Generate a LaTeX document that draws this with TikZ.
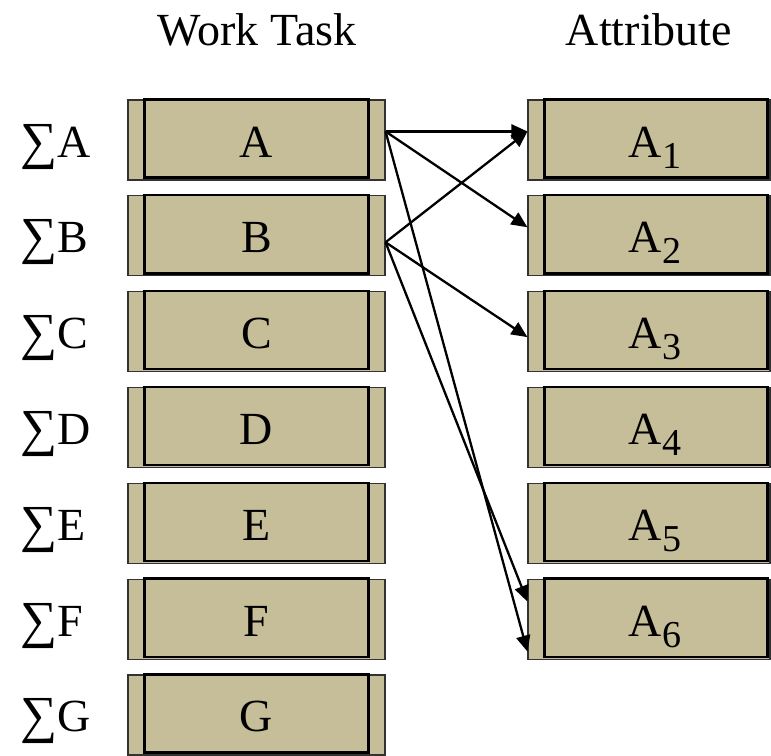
\documentclass[tikz,border=0pt]{standalone}
\usepackage{fontspec}
\setmainfont{Liberation Serif}
\usetikzlibrary{arrows.meta,calc}
\definecolor{boxfill}{RGB}{197,190,153}
\definecolor{boxedge}{RGB}{50,50,50}
\newcommand{\mysub}[1]{\raisebox{-11pt}{\fontsize{38}{40}\selectfont #1}}
\newcommand{\mysig}{\raisebox{-1pt}{\fontsize{52}{56}\selectfont ∑}}
\tikzset{
  outerbox/.style={draw=boxedge, line width=1.1pt, fill=boxfill, minimum height=80pt, inner sep=0pt},
  leftbox/.style={outerbox, minimum width=257pt},
  rightbox/.style={outerbox, minimum width=242pt},
  innerbox/.style={draw=black, line width=2.3pt},
  lbl/.style={inner sep=0pt, font=\fontsize{46}{50}\selectfont},
  arr/.style={draw=black, line width=2.3pt, -{Triangle[length=16pt,width=14pt]}}
}
\begin{document}
\begin{tikzpicture}[x=1pt,y=-1pt]
\useasboundingbox (0,0) rectangle (771,755);
\node[lbl, anchor=base] (h1) at (257,45) {Work Task};
\node[lbl, anchor=base] (h2) at (649,45) {Attribute};
\foreach \n [count=\i from 0] in {A,B,C,D,E,F,G} {
  \pgfmathsetmacro\t{100+95.83*\i}
  \node[leftbox] (\n) at (256.5,\t+40) {};
  \draw[innerbox] ($(\n.north west)+(17,0)$) rectangle ($(\n.south east)+(-17,-3)$);
  \node[lbl, anchor=base] (t\n) at (256.5,\t+57) {\n};
  \node[lbl, anchor=base west] (s\n) at (20,\t+57) {\mysig\n};
}
\foreach \i in {1,...,6} {
  \pgfmathsetmacro\t{100+95.83*(\i-1)}
  \node[rightbox] (A\i) at (649,\t+40) {};
  \draw[innerbox] ($(A\i.north west)+(17,0)$) rectangle ($(A\i.south east)+(-3,-3)$);
  \node[lbl, anchor=base] (tA\i) at (655,\t+57) {A\mysub{\i}};
}
\coordinate (Ao) at ($(A.north east)+(0,32)$);
\coordinate (Bo) at ($(B.north east)+(0,47)$);
\coordinate (A1i) at ($(A1.north west)+(0,32)$);
\coordinate (A2i) at ($(A2.north west)+(0,32)$);
\coordinate (A3i) at ($(A3.north west)+(0,46)$);
\coordinate (A6u) at ($(A6.north west)+(0,23)$);
\coordinate (A6l) at ($(A6.north west)+(0,73)$);
\draw[arr] (Ao) -- (A1i);
\draw[arr] (Ao) -- (A2i);
\draw[arr] (Ao) -- (A6l);
\draw[arr] (Bo) -- (A1i);
\draw[arr] (Bo) -- (A3i);
\draw[arr] (Bo) -- (A6u);
\end{tikzpicture}
\end{document}
